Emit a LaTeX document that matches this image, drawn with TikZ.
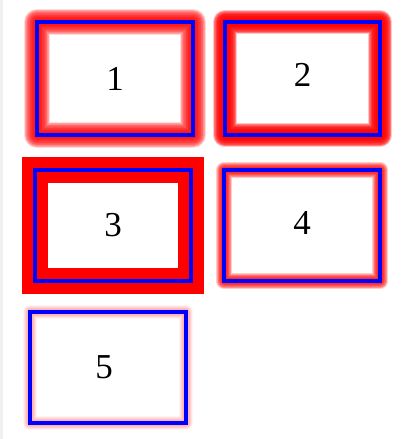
\documentclass[tikz,border=0pt]{standalone}
\usepackage{fontspec}
\setmainfont{Liberation Serif}
\usepackage{tikz}
\usetikzlibrary{backgrounds}
\tikzset{
  glowbox/.style={draw=blue, line width=4pt, outer sep=0pt, inner sep=0pt,
    minimum width=156pt, minimum height=111pt,
    font=\fontsize{35}{40}\selectfont},
}
\newcommand{\glowround}[3]{%
  \foreach \k in {1,...,16} {
    \draw[red, opacity=#3, line join=round, line width={4pt+2*#2pt*\k/16}]
      (#1.north west) rectangle (#1.south east);
  }%
}

\begin{document}
\begin{tikzpicture}[x=1pt, y=-1pt]

  \useasboundingbox (0,0) rectangle (414,439);
  \fill[black!6] (0,0) rectangle (3,439);

  \node[glowbox, minimum height=113pt] (box1) at (115,78.5) {1};
  \node[glowbox, minimum width=155pt, minimum height=113pt] (box2) at (302.5,78.5) {\raisebox{8pt}{2}};
  \node[glowbox] (box3) at (113,225.5) {3};
  \node[glowbox] (box4) at (302,225.5) {\raisebox{5pt}{4}};
  \node[glowbox] (box5) at (108,367.5) {\hspace{-8pt}\raisebox{1pt}{5}};

  \begin{pgfonlayer}{background}
    % soft red shadows round the boxes
    \glowround{box1}{11}{0.14}
    \glowround{box2}{10}{0.22}
    \glowround{box4}{6}{0.11}
    \glowround{box5}{5}{0.025}
    % solid red band
    \draw[red, line width=26pt] (box3.north west) rectangle (box3.south east);
  \end{pgfonlayer}

\end{tikzpicture}
\end{document}
